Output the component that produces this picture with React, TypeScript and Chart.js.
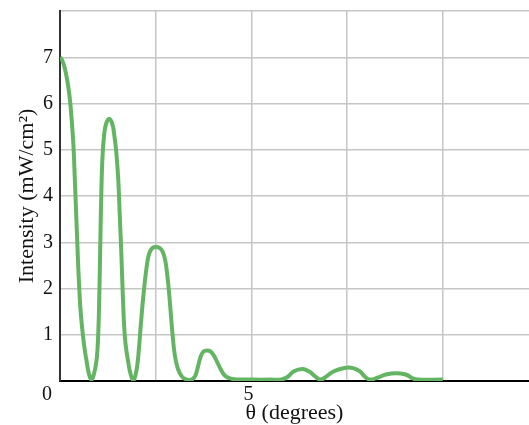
import React, { useEffect, useRef } from "react";
import { Chart, registerables } from "chart.js";

Chart.register(...registerables);

// theta (degrees)
const thetaValues: number[] = [
  0, 0.06, 0.12, 0.19, 0.25, 0.3, 0.35, 0.39, 0.43, 0.47, 0.5, 0.53, 0.56, 0.6, 0.645, 0.69, 0.75, 0.82,
  0.89, 0.95, 0.98, 1.0, 1.02, 1.04, 1.06, 1.08, 1.11, 1.15, 1.2, 1.285,
  1.37, 1.42, 1.47, 1.52, 1.56, 1.6, 1.63, 1.66, 1.69, 1.73, 1.78, 1.84, 1.91,
  1.97, 2.02, 2.06, 2.1, 2.15, 2.2, 2.26, 2.33, 2.42, 2.51,
  2.6, 2.68, 2.75, 2.8, 2.85, 2.89, 2.94, 3.0, 3.08, 3.18, 3.28, 3.4,
  3.52, 3.6, 3.67, 3.75, 3.84, 3.93, 4.02, 4.1, 4.2, 4.3, 4.42, 4.6,
  5.0, 5.5, 5.76, 5.93, 6.11, 6.33, 6.5, 6.68, 6.81,
  6.98, 7.15, 7.55, 7.81, 7.98, 8.1,
  8.29, 8.51, 8.77, 9.03, 9.21, 9.34, 10.0,
];

// intensity (mW/cm^2)
const intensityValues: number[] = [
  7.0, 6.93, 6.78, 6.5, 6.15, 5.7, 5.1, 4.3, 3.45, 2.6, 2.05, 1.6, 1.3, 0.98, 0.68, 0.45, 0.17, 0.02,
  0.16, 0.42, 0.7, 1.05, 1.6, 2.4, 3.3, 4.1, 4.85, 5.3, 5.55, 5.67,
  5.55, 5.3, 4.95, 4.38, 3.6, 2.8, 2.1, 1.45, 1.0, 0.68, 0.42, 0.16, 0.02,
  0.12, 0.35, 0.68, 1.1, 1.6, 2.02, 2.45, 2.76, 2.88, 2.9,
  2.88, 2.8, 2.6, 2.3, 1.9, 1.5, 1.0, 0.55, 0.26, 0.1, 0.04, 0.02,
  0.09, 0.3, 0.52, 0.64, 0.66, 0.64, 0.55, 0.42, 0.25, 0.12, 0.06, 0.035,
  0.03, 0.03, 0.03, 0.08, 0.21, 0.26, 0.21, 0.09, 0.03,
  0.11, 0.21, 0.29, 0.22, 0.08, 0.03,
  0.07, 0.14, 0.17, 0.14, 0.06, 0.03, 0.03,
];

const xTickLabels: Record<number, string> = { 0: "0\u00a0\u00a0\u00a0\u00a0", 5: "5" };
const yTickLabels: number[] = [1, 2, 3, 4, 5, 6, 7];

const FONT = "'Liberation Serif', 'Times New Roman', serif";

export default function App() {
  const canvasRef = useRef<HTMLCanvasElement | null>(null);

  useEffect(() => {
    const canvas = canvasRef.current;
    if (!canvas) return;
    const points = thetaValues.map((t, i) => ({ x: t, y: intensityValues[i] }));
    const chart = new Chart(canvas, {
      type: "line",
      data: {
        datasets: [
          {
            data: points,
            borderColor: "rgb(100,181,99)",
            borderWidth: 4,
            pointRadius: 0,
            fill: false,
            tension: 0.4,
          },
        ],
      },
      options: {
        animation: false,
        responsive: false,
        devicePixelRatio: 1,
        layout: { padding: { top: 11, right: 0, left: 0, bottom: 0 } },
        plugins: { legend: { display: false }, tooltip: { enabled: false } },
        scales: {
          x: {
            type: "linear",
            min: 0,
            max: 12.25,
            afterFit: (s: any) => {
              s.height = 44;
              s.paddingLeft = 0;
              s.paddingRight = 0;
            },
            ticks: {
              stepSize: 2.5,
              includeBounds: false,
              autoSkip: false,
              maxRotation: 0,
              padding: 2,
              labelOffset: -3,
              color: "#111",
              font: { family: FONT, size: 20 },
              callback: (v: any) => (xTickLabels[v] !== undefined ? xTickLabels[v] : ""),
            },
            grid: { color: "#c6c6c6", lineWidth: 1.5, drawTicks: false, tickLength: 0 },
            border: { color: "#000", width: 2 },
            title: {
              display: true,
              text: "θ (degrees)",
              color: "#111",
              font: { family: FONT, size: 22 },
              padding: { top: 0, bottom: -1 },
            },
          },
          y: {
            min: 0,
            max: 8,
            afterFit: (s: any) => {
              s.width = 60;
              s.paddingTop = 0;
              s.paddingBottom = 0;
            },
            ticks: {
              stepSize: 1,
              padding: 7,
              color: "#111",
              font: { family: FONT, size: 20 },
              callback: (v: any) => (yTickLabels.includes(v) ? String(v) : ""),
            },
            grid: { color: "#c6c6c6", lineWidth: 1.5, drawTicks: false, tickLength: 0 },
            border: { color: "#333", width: 2 },
            title: {
              display: true,
              text: "Intensity (mW/cm²)",
              color: "#111",
              font: { family: FONT, size: 22 },
              padding: { top: 14, bottom: 0 },
            },
          },
        },
      },
    });
    return () => chart.destroy();
  }, []);

  return (
    <div style={{ position: "fixed", left: 0, top: 0, width: 529, height: 425, background: "#fff" }}>
      <canvas ref={canvasRef} width={529} height={425} style={{ display: "block" }} />
    </div>
  );
}
